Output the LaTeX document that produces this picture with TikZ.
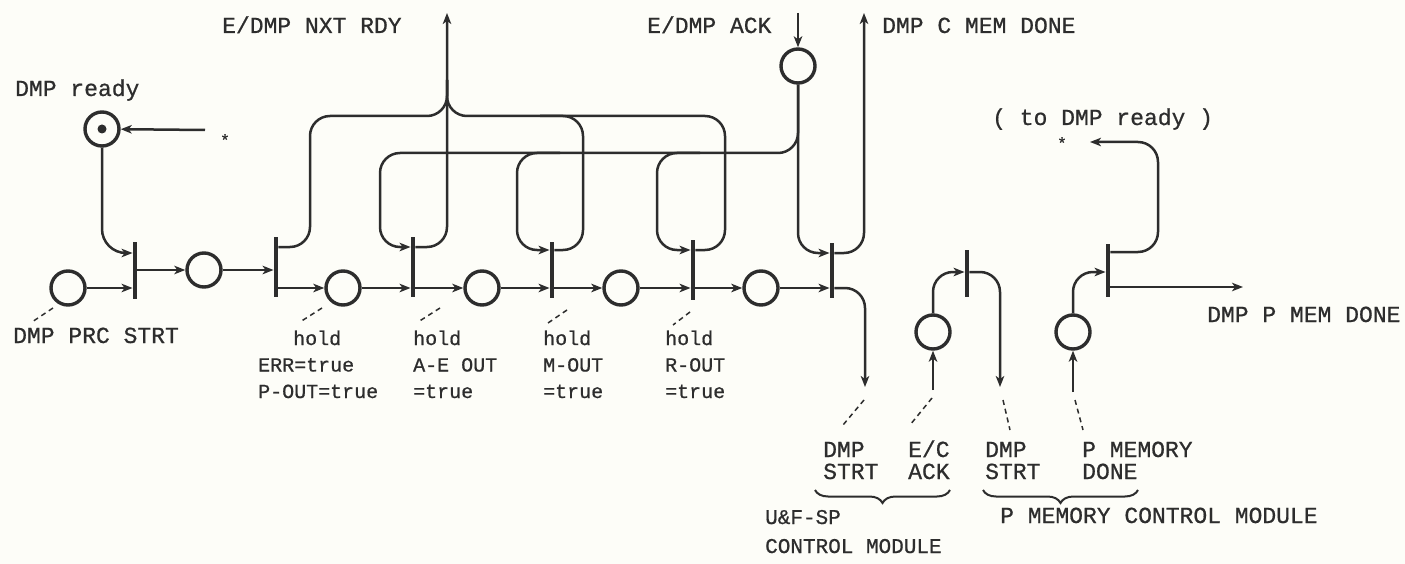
\documentclass[tikz,border=0pt]{standalone}
\usepackage{fontspec}
\setmonofont{Liberation Mono}[FakeBold=0.7]
\usetikzlibrary{arrows.meta,decorations.pathreplacing}
\definecolor{ink}{RGB}{45,45,45}
\definecolor{paper}{RGB}{253,253,248}
\begin{document}
\begin{tikzpicture}[x=1pt,y=-1pt,
  place/.style={circle,draw=ink,line width=3.4pt,minimum size=34pt,inner sep=0pt},
  trans/.style={rectangle,fill=ink,minimum width=4.5pt,inner sep=0pt,minimum height=#1},
  wire/.style={draw=ink,line width=2.5pt,rounded corners=20pt},
  arr/.style={wire,-{Stealth[length=11pt,width=8.5pt,inset=3pt]}},
  lead/.style={draw=ink,line width=1.5pt,dash pattern=on 5pt off 4pt},
  pica/.style={font=\ttfamily\fontsize{23}{22}\selectfont,text=ink,inner sep=0pt,anchor=base west,align=left},
  elite/.style={font=\ttfamily\fontsize{20}{26.5}\selectfont,text=ink,inner sep=0pt,anchor=base west,align=left},
  brc/.style={draw=ink,line width=2pt,decorate,decoration={brace,mirror,amplitude=13pt}}
]
\fill[paper] (0,0) rectangle (1405,564);
\useasboundingbox (0,0) rectangle (1405,564);

% places
\node[place] (pReady) at (102,129) {};
\node[circle,fill=ink,minimum size=9pt,inner sep=0pt] (tok) at (pReady) {};
\node[place] (pStart) at (68,288) {};
\node[place] (p2) at (204,270) {};
\node[place] (h1) at (343,288) {};
\node[place] (h2) at (482,288) {};
\node[place] (h3) at (621,288) {};
\node[place] (h4) at (761,288) {};
\node[place] (pAck) at (798,66) {};
\node[place] (pEC) at (933,332) {};
\node[place] (pPM) at (1073,332) {};

% transitions
\node[trans=57pt] (t1) at (135,270) {};
\node[trans=60pt] (t2) at (276,267) {};
\node[trans=60pt] (t3) at (413,267) {};
\node[trans=56pt] (t4) at (552,270) {};
\node[trans=60pt] (t5) at (693,270) {};
\node[trans=55pt] (t6) at (832,270) {};
\node[trans=47pt] (t7) at (967,273) {};
\node[trans=53pt] (t8) at (1108,270) {};

% free ends
\coordinate (sIn) at (205,130);
\coordinate (cNXT) at (447,13);
\coordinate (cAckIn) at (798,13);
\coordinate (cCMEM) at (864,13);
\coordinate (cDS1) at (865,387);
\coordinate (cEC) at (933,390);
\coordinate (cDS2) at (1000,387);
\coordinate (cPM) at (1073,392);
\coordinate (cRet) at (1090,142);
\coordinate (cPMD) at (1243,287);
\node[text=ink,inner sep=0pt,font=\ttfamily\fontsize{16}{16}\selectfont] (star1) at (225,140) {*};
\node[text=ink,inner sep=0pt,font=\ttfamily\fontsize{16}{16}\selectfont] (star2) at (1062,143) {*};

% main chain
\draw[arr] (sIn) -- (pReady);
\draw[arr,rounded corners=24pt] (pReady) -- (pReady |- 0,253) -- (t1.west |- 0,253);
\draw[arr] (pStart) -- (t1.west |- pStart);
\draw[arr] (t1.east |- p2) -- (p2);
\draw[arr] (p2) -- (t2.west |- p2);
\draw[arr] (t2.east |- h1) -- (h1);
\draw[arr] (h1) -- (t3.west |- h1);
\draw[arr] (t3.east |- h2) -- (h2);
\draw[arr] (h2) -- (t4.west |- h2);
\draw[arr] (t4.east |- h3) -- (h3);
\draw[arr] (h3) -- (t5.west |- h3);
\draw[arr] (t5.east |- h4) -- (h4);
\draw[arr] (h4) -- (t6.west |- h4);

% bus to E/DMP NXT RDY
\draw[wire] (t2.east |- 0,247) -- (310,247) -- (310,116) -- (447,116) -- (447,80);
\draw[wire] (t5.east |- 0,250) -- (725,250) -- (725,116) -- (447,116) -- (447,80);
\draw[wire] (t4.east |- 0,250) -- (583,250) -- (583,116) -- (540,116);
\draw[arr] (t3.east |- 0,247) -- (447,247) -- (cNXT);

% bus from E/DMP ACK
\draw[arr] (cAckIn) -- (pAck);
\draw[arr] (pAck) -- (pAck |- 0,153) -- (380,153) -- (380,247) -- (t3.west |- 0,247);
\draw[arr] (560,153) -- (517,153) -- (517,250) -- (t4.west |- 0,250);
\draw[arr] (700,153) -- (657,153) -- (657,250) -- (t5.west |- 0,250);
\draw[arr] (pAck) -- (pAck |- 0,253) -- (t6.west |- 0,253);
\draw[arr] (t6.east |- 0,253) -- (864,253) -- (cCMEM);
\draw[arr] (t6.east |- h4) -- (865,288) -- (cDS1);

% memory modules
\draw[arr] (cEC) -- (pEC);
\draw[arr] (pEC) -- (pEC |- 0,272) -- (t7.west |- 0,272);
\draw[arr] (t7.east |- 0,272) -- (1000,272) -- (cDS2);
\draw[arr] (cPM) -- (pPM);
\draw[arr] (pPM) -- (pPM |- 0,272) -- (t8.west |- 0,272);
\draw[arr] (t8.east |- 0,252) -- (1158,252) -- (1158,142) -- (cRet);
\draw[arr] (t8.east |- 0,287) -- (cPMD);

% leaders
\draw[lead] (53,308) -- (32,322);
\draw[lead] (322,308) -- (300,322);
\draw[lead] (440,308) -- (418,322);
\draw[lead] (567,310) -- (548,323);
\draw[lead] (690,312) -- (673,325);
\draw[lead] (864,400) -- (843,425);
\draw[lead] (932,398) -- (910,425);
\draw[lead] (1003,400) -- (1010,430);
\draw[lead] (1075,400) -- (1083,430);

% braces
\draw[brc] (815,490) -- (950,490);
\draw[brc] (983,490) -- (1138,490);

% texts (multi-line nodes are placed by the baseline of their last line)
\node[pica] (tReady) at (15,96) {DMP ready};
\node[pica] (tPRC) at (13,343) {DMP PRC STRT};
\node[pica] (tNXT) at (222,33) {E/DMP NXT RDY};
\node[pica] (tAck) at (647,33) {E/DMP ACK};
\node[pica] (tCMEM) at (882,33) {DMP C MEM DONE};
\node[pica] (tTo) at (992,125) {( to DMP ready )};
\node[pica] (tPMD) at (1207,322) {DMP P MEM DONE};
\node[elite] (l1a) at (293,345) {hold};
\node[elite] (l1b) at (258,398) {ERR=true\\P-OUT=true};
\node[elite] (l2) at (413,398) {hold\\A-E OUT\\=true};
\node[elite] (l3) at (543,398) {hold\\M-OUT\\=true};
\node[elite] (l4) at (665,398) {hold\\R-OUT\\=true};
\node[pica] (b1) at (823,479) {DMP\\STRT};
\node[pica] (b2) at (908,479) {E/C\\ACK};
\node[pica] (b3) at (985,479) {DMP\\STRT};
\node[pica] (b4) at (1082,479) {P MEMORY\\DONE};
\node[elite,font=\ttfamily\fontsize{21}{29}\selectfont] (m1) at (765,553) {U\&F-SP\\CONTROL MODULE};
\node[pica] (m2) at (1000,523) {P MEMORY CONTROL MODULE};
\end{tikzpicture}
\end{document}
